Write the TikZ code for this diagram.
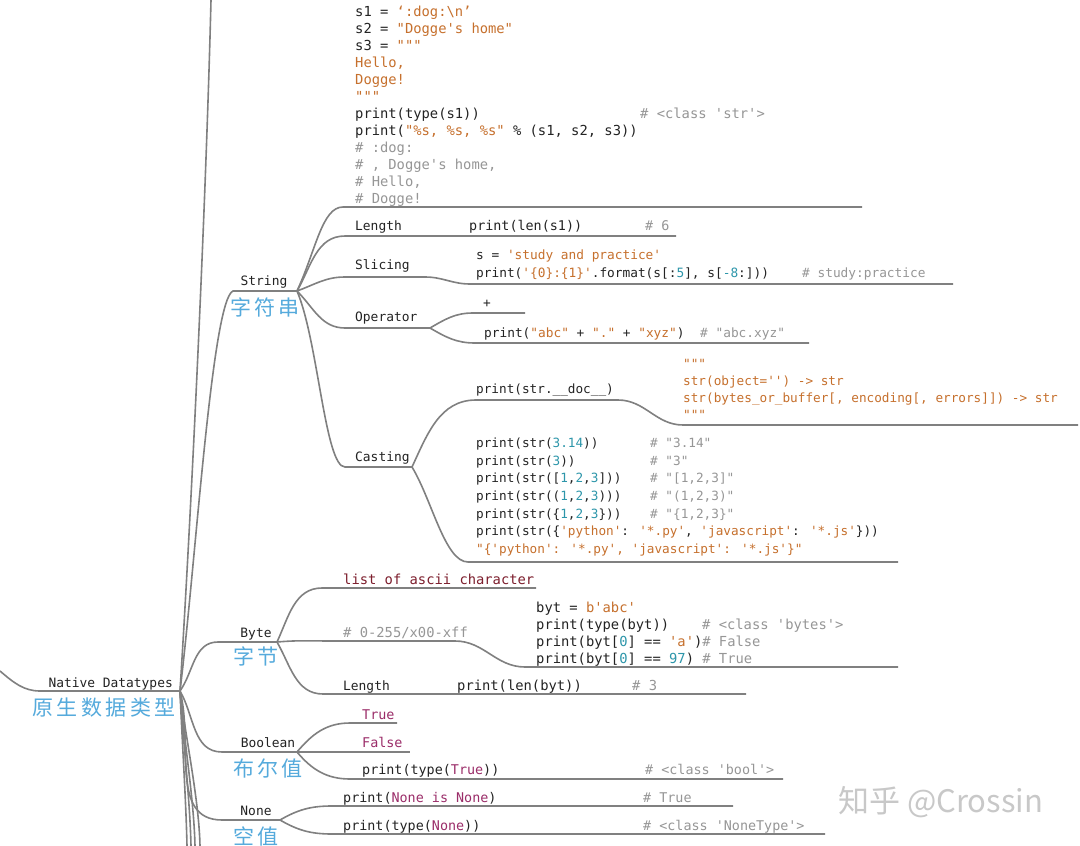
\documentclass[tikz,border=0pt]{standalone}
\usepackage{fontspec}
\newfontfamily\codefont[Ligatures=TeXOff]{DejaVu Sans Mono}
\newfontfamily\cjkfont{Noto Sans CJK SC}
\definecolor{linec}{RGB}{128,128,128}
\definecolor{codec}{RGB}{35,35,35}
\definecolor{strc}{RGB}{198,112,45}
\definecolor{numc}{RGB}{45,150,170}
\definecolor{cmtc}{RGB}{150,150,150}
\definecolor{kwc}{RGB}{155,45,105}
\definecolor{redc}{RGB}{125,30,45}
\definecolor{cnc}{RGB}{85,170,220}
\definecolor{wmc}{RGB}{200,200,200}
\newcommand\cstr[1]{\textcolor{strc}{#1}}
\newcommand\cnum[1]{\textcolor{numc}{#1}}
\newcommand\ckw[1]{\textcolor{kwc}{#1}}
\newcommand\ccmt[1]{\textcolor{cmtc}{#1}}
\newcommand\kk{\kern3.5pt}
\begin{document}
\begin{tikzpicture}[x=1pt,y=-1pt,
  edge/.style={draw=linec,line width=1.6pt},
  lbl/.style={font=\codefont\fontsize{12.9}{15}\selectfont,text=codec,inner sep=0,anchor=base},
  cn/.style={font=\cjkfont\fontsize{21}{24}\selectfont,text=cnc,inner sep=0,anchor=base},
  cA/.style={font=\codefont\fontsize{13.8}{17}\selectfont,text=codec,inner sep=0,anchor=base west},
  cB/.style={font=\codefont\fontsize{13.4}{17}\selectfont,text=codec,inner sep=0,anchor=base west},
  cC/.style={font=\codefont\fontsize{12.8}{17}\selectfont,text=codec,inner sep=0,anchor=base west},
  cD/.style={font=\codefont\fontsize{12.7}{17}\selectfont,text=codec,inner sep=0,anchor=base west},
  cmt/.style={text=cmtc}]
\fill[white] (0,0) rectangle (1080,846);
\useasboundingbox (0,0) rectangle (1080,846);

% ---------- coordinates ----------
\coordinate (rootIn) at (0,671);
\coordinate (rootL) at (40,691);
\coordinate (root) at (180,691);
\coordinate (topEnd) at (211,0);
\coordinate (strL) at (233,291);
\coordinate (strR) at (297,291);
\coordinate (topL) at (343,207);
\coordinate (topR) at (862,207);
\coordinate (lenL) at (345,236);
\coordinate (lenR) at (676,236);
\coordinate (sliL) at (345,277);
\coordinate (sliM) at (425,277);
\coordinate (sliN) at (470,284);
\coordinate (sliR) at (953,284);
\coordinate (opL) at (345,328);
\coordinate (opJ) at (430,328);
\coordinate (plusL) at (473,313);
\coordinate (plusR) at (525,313);
\coordinate (opcL) at (475,343);
\coordinate (opcR) at (809,343);
\coordinate (casL) at (345,467);
\coordinate (casJ) at (412,467);
\coordinate (docL) at (476,400);
\coordinate (docM) at (618,400);
\coordinate (docN) at (683,425);
\coordinate (docR) at (1078,425);
\coordinate (castL) at (468,562);
\coordinate (castR) at (898,562);
\coordinate (byL) at (218,642);
\coordinate (byR) at (277,642);
\coordinate (ascL) at (322,588);
\coordinate (ascR) at (536,588);
\coordinate (hexL) at (332,641);
\coordinate (hexM) at (455,641);
\coordinate (hexN) at (525,667);
\coordinate (hexR) at (898,667);
\coordinate (blenL) at (323,694);
\coordinate (blenR) at (746,694);
\coordinate (boL) at (222,752);
\coordinate (boR) at (297,752);
\coordinate (trL) at (350,723);
\coordinate (trR) at (397,723);
\coordinate (faR) at (410,752);
\coordinate (ptL) at (350,779);
\coordinate (ptR) at (783,779);
\coordinate (noL) at (222,820);
\coordinate (noR) at (280,820);
\coordinate (pn1L) at (332,806);
\coordinate (pn1R) at (733,806);
\coordinate (pn2L) at (332,834);
\coordinate (pn2R) at (825,834);
\coordinate (bot1) at (187,846);
\coordinate (bot2) at (191,846);
\coordinate (bot3) at (195,846);
\coordinate (bot4) at (200,846);

% ---------- connectors ----------
\draw[edge] (rootIn) .. controls (14,683) and (24,691) .. (rootL) -- (root);
\draw[edge] (root) .. controls (192,500) and (206,200) .. (topEnd);
\draw[edge] (root) .. controls (196,560) and (212,300) .. (strL) -- (strR);
\draw[edge] (root) to[out=55,in=180] (byL) -- (byR);
\draw[edge] (root) to[out=-60,in=180] (boL) -- (boR);
\draw[edge] (root) to[out=-75,in=180] (noL) -- (noR);
\draw[edge] (root) .. controls (182,740) and (186,800) .. (bot1);
\draw[edge] (root) .. controls (183,740) and (190,800) .. (bot2);
\draw[edge] (root) .. controls (184,740) and (194,800) .. (bot3);
\draw[edge] (root) .. controls (186,740) and (199,800) .. (bot4);

\draw[edge] (strR) .. controls (316,250) and (322,207) .. (topL) -- (topR);
\draw[edge] (strR) to[out=60,in=180] (lenL) -- (lenR);
\draw[edge] (strR) to[out=20,in=180] (sliL) -- (sliM) to[out=0,in=180] (sliN) -- (sliR);
\draw[edge] (strR) to[out=-45,in=180] (opL) -- (opJ);
\draw[edge] (opJ) to[out=30,in=180] (plusL) -- (plusR);
\draw[edge] (opJ) to[out=-30,in=180] (opcL) -- (opcR);
\draw[edge] (strR) .. controls (318,340) and (325,467) .. (casL) -- (casJ);
\draw[edge] (casJ) to[out=65,in=180] (docL) -- (docM) to[out=0,in=180] (docN) -- (docR);
\draw[edge] (casJ) .. controls (432,500) and (445,562) .. (castL) -- (castR);

\draw[edge] (byR) to[out=65,in=180] (ascL) -- (ascR);
\draw[edge] (byR) to[out=5,in=180] (hexL) -- (hexM) to[out=0,in=180] (hexN) -- (hexR);
\draw[edge] (byR) to[out=-60,in=180] (blenL) -- (blenR);

\draw[edge] (boR) to[out=50,in=180] (trL) -- (trR);
\draw[edge] (boR) -- (faR);
\draw[edge] (boR) to[out=-50,in=180] (ptL) -- (ptR);

\draw[edge] (noR) to[out=30,in=180] (pn1L) -- (pn1R);
\draw[edge] (noR) to[out=-30,in=180] (pn2L) -- (pn2R);

% ---------- labels ----------
\node[lbl,anchor=base east] (ndT) at (173,687) {Native Datatypes};
\node[cn,anchor=base east] (ndC) at (176,715) {原\kk 生\kk 数\kk 据\kk 类\kk 型};
\node[lbl] (strT) at (264,285) {String};
\node[cn] (strC) at (265,315) {字\kk 符\kk 串};
\node[lbl] (byT) at (256,637) {Byte};
\node[cn] (byC) at (256,664) {字\kk 节};
\node[lbl] (boT) at (268,747) {Boolean};
\node[cn] (boC) at (268,776) {布\kk 尔\kk 值};
\node[lbl] (noT) at (256,815) {None};
\node[cn] (noC) at (256,844) {空\kk 值};

% ---------- top block ----------
\node[cA] (t1) at (355,16) {s1 = \cstr{‘:dog:\textbackslash n’}};
\node[cA] (t2) at (355,33) {s2 = \cstr{"Dogge's home"}};
\node[cA] (t3) at (355,50) {s3 = \cstr{"""}};
\node[cA] (t4) at (355,67) {\cstr{Hello,}};
\node[cA] (t5) at (355,84) {\cstr{Dogge!}};
\node[cA] (t6) at (355,101) {\cstr{"""}};
\node[cA] (t7) at (355,118) {print(type(s1))};
\node[cA,cmt] (t7c) at (640,118) {\# <class 'str'>};
\node[cA] (t8) at (355,135) {print(\cstr{"\%s, \%s, \%s"} \% (s1, s2, s3))};
\node[cA,cmt] (t9) at (355,152) {\# :dog:};
\node[cA,cmt] (t10) at (355,169) {\# , Dogge's home,};
\node[cA,cmt] (t11) at (355,186) {\# Hello,};
\node[cA,cmt] (t12) at (355,203) {\# Dogge!};

% ---------- Length ----------
\node[lbl,anchor=base west] (lenT) at (355,230) {Length};
\node[cB] (lenC) at (469,230) {print(len(s1))};
\node[cB,cmt] (lenK) at (645,230) {\# 6};

% ---------- Slicing ----------
\node[lbl,anchor=base west] (sliT) at (355,269) {Slicing};
\node[cC] (sli1) at (476,259) {s = \cstr{'study and practice'}};
\node[cC] (sli2) at (476,277) {print(\cstr{'\{0\}:\{1\}'}.format(s[:\cnum{5}], s[\cnum{-8}:]))};
\node[cC,cmt] (sliK) at (802,277) {\# study:practice};

% ---------- Operator ----------
\node[lbl,anchor=base west] (opT) at (355,321) {Operator};
\node[cC] (plusT) at (483,307) {+};
\node[cC] (opC) at (484,337) {print(\cstr{"abc"} + \cstr{"."} + \cstr{"xyz"})};
\node[cC,cmt] (opK) at (700,337) {\# "abc.xyz"};

% ---------- Casting ----------
\node[lbl,anchor=base west] (casT) at (355,461) {Casting};
\node[cD] (docT) at (476,393) {print(str.\_\_doc\_\_)};
\node[cD] (d1) at (683,368) {\cstr{"""}};
\node[cD] (d2) at (683,385) {\cstr{str(object='') -> str}};
\node[cD] (d3) at (683,402) {\cstr{str(bytes\_or\_buffer[, encoding[, errors]]) -> str}};
\node[cD] (d4) at (683,419) {\cstr{"""}};
\node[cD] (c1) at (476,447) {print(str(\cnum{3.14}))};
\node[cD,cmt] (c1k) at (650,447) {\# "3.14"};
\node[cD] (c2) at (476,465) {print(str(\cnum{3}))};
\node[cD,cmt] (c2k) at (650,465) {\# "3"};
\node[cD] (c3) at (476,482) {print(str([\cnum{1},\cnum{2},\cnum{3}]))};
\node[cD,cmt] (c3k) at (650,482) {\# "[1,2,3]"};
\node[cD] (c4) at (476,500) {print(str((\cnum{1},\cnum{2},\cnum{3})))};
\node[cD,cmt] (c4k) at (650,500) {\# "(1,2,3)"};
\node[cD] (c5) at (476,518) {print(str(\{\cnum{1},\cnum{2},\cnum{3}\}))};
\node[cD,cmt] (c5k) at (650,518) {\# "\{1,2,3\}"};
\node[cD] (c6) at (476,535) {print(str(\{\cstr{'python'}: \cstr{'*.py'}, \cstr{'javascript'}: \cstr{'*.js'}\}))};
\node[cD] (c7) at (476,553) {\cstr{"\{'python': '*.py', 'javascript': '*.js'\}"}};

% ---------- Byte ----------
\node[cA,text=redc] (ascT) at (343,584) {list of ascii character};
\node[cA,cmt] (hexT) at (343,637) {\# 0-255/x00-xff};
\node[cA] (b1) at (536,612) {byt = \cstr{b'abc'}};
\node[cA] (b2) at (536,629) {print(type(byt))};
\node[cA,cmt] (b2k) at (702,629) {\# <class 'bytes'>};
\node[cA] (b3) at (536,646) {print(byt[\cnum{0}] == \cstr{'a'})\ccmt{\# False}};
\node[cA] (b4) at (536,663) {print(byt[\cnum{0}] == \cnum{97}) \ccmt{\# True}};
\node[lbl,anchor=base west] (blenT) at (343,690) {Length};
\node[cA] (blenC) at (457,690) {print(len(byt))};
\node[cA,cmt] (blenK) at (632,690) {\# 3};

% ---------- Boolean ----------
\node[cB,text=kwc] (trT) at (362,719) {True};
\node[cB,text=kwc] (faT) at (362,747) {False};
\node[cB] (ptT) at (362,774) {print(type(\ckw{True}))};
\node[cB,cmt] (ptK) at (645,774) {\# <class 'bool'>};

% ---------- None ----------
\node[cB] (pn1) at (343,802) {print(\ckw{None} \ckw{is} \ckw{None})};
\node[cB,cmt] (pn1K) at (643,802) {\# True};
\node[cB] (pn2) at (343,830) {print(type(\ckw{None}))};
\node[cB,cmt] (pn2K) at (643,830) {\# <class 'NoneType'>};

% ---------- watermark ----------
\node[font=\cjkfont\fontsize{31}{34}\selectfont,text=wmc,inner sep=0,anchor=base west] (wm) at (838,812) {知乎 @Crossin};
\end{tikzpicture}
\end{document}
